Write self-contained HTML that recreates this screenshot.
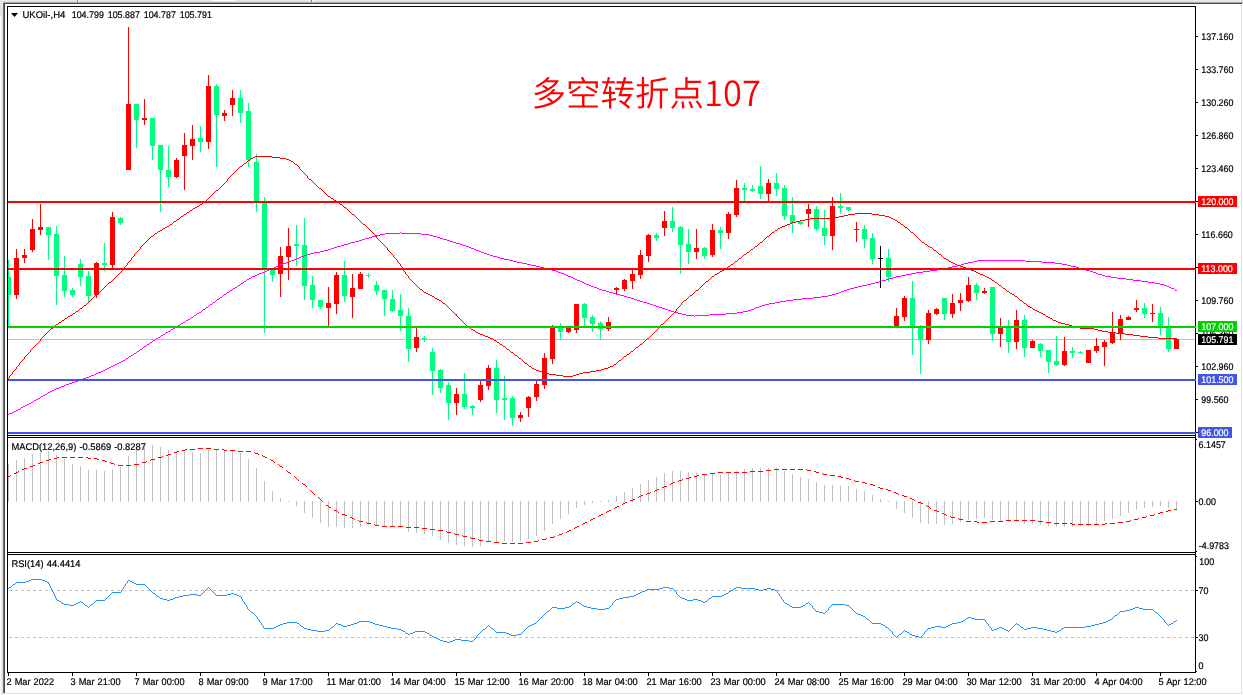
<!DOCTYPE html>
<html lang="zh"><head><meta charset="utf-8"><title>UKOil-,H4</title>
<style>
html,body{margin:0;padding:0;background:#fff}
body{width:1243px;height:695px;overflow:hidden}
svg{display:block;position:absolute;left:0;top:0;will-change:transform}
text{font-family:"Liberation Sans","Noto Sans CJK SC",sans-serif;font-size:9.7px;text-rendering:geometricPrecision;fill:#000;stroke:#000;stroke-width:0.2px}
.w{fill:#fff;stroke:#fff}
.ax{letter-spacing:0}
.tl{word-spacing:0.55px}
.big{font-size:34.5px;fill:#ff0000;font-weight:350;stroke:none}
.ce{shape-rendering:crispEdges}
</style></head><body>

<svg width="1243" height="695" viewBox="0 0 1243 695">

<g class="ce">
<rect x="0" y="0" width="1243" height="695" fill="#ffffff"/>
<rect x="0" y="0" width="1243" height="1" fill="#e8e8e8"/>
<rect x="0" y="1" width="1243" height="1" fill="#e2e2e2"/>
<rect x="212" y="0" width="23" height="1" fill="#ffffff"/>
<rect x="0" y="2" width="1243" height="1" fill="#a8a8a8"/>
<rect x="0" y="2" width="3" height="1" fill="#e9e9e9"/>
<rect x="77" y="0" width="1" height="2" fill="#808080"/>
<rect x="78" y="0" width="1" height="2" fill="#f8f8f8"/>
<rect x="311" y="0" width="1" height="2" fill="#808080"/>
<rect x="312" y="0" width="1" height="2" fill="#f8f8f8"/>
<rect x="3" y="3" width="1239" height="1" fill="#4a4a4a"/>
<rect x="0" y="3" width="3" height="13" fill="#e4e4e4"/>
<rect x="0" y="16" width="1" height="679" fill="#fafafa"/>
<rect x="1" y="16" width="1" height="679" fill="#e8e8e8"/>
<rect x="2" y="16" width="1" height="679" fill="#e0e0e0"/>
<rect x="3" y="3" width="1" height="690" fill="#707070"/>
<rect x="4" y="3" width="1" height="690" fill="#444444"/>
<rect x="1241" y="4" width="1" height="690" fill="#e2e2e2"/>
<rect x="3" y="693" width="1239" height="1" fill="#e2e2e2"/>
</g>

<g class="ce">
<rect x="8" y="339" width="1187" height="1" fill="#c0c0c0"/>
<rect x="8" y="260" width="1" height="68" fill="#00ff7f"/>
<rect x="8" y="277" width="3" height="18" fill="#00ff7f"/>
<rect x="16" y="249" width="1" height="50" fill="#ff0000"/>
<rect x="14" y="258" width="5" height="37" fill="#ff0000"/>
<rect x="24" y="249" width="1" height="14" fill="#ff0000"/>
<rect x="22" y="255" width="5" height="3" fill="#ff0000"/>
<rect x="32" y="219" width="1" height="33" fill="#ff0000"/>
<rect x="30" y="229" width="5" height="21" fill="#ff0000"/>
<rect x="40" y="204" width="1" height="31" fill="#ff0000"/>
<rect x="38" y="227" width="5" height="3" fill="#ff0000"/>
<rect x="48" y="227" width="1" height="33" fill="#00ff7f"/>
<rect x="46" y="227" width="5" height="8" fill="#00ff7f"/>
<rect x="56" y="226" width="1" height="79" fill="#00ff7f"/>
<rect x="54" y="234" width="5" height="42" fill="#00ff7f"/>
<rect x="64" y="256" width="1" height="41" fill="#00ff7f"/>
<rect x="62" y="275" width="5" height="16" fill="#00ff7f"/>
<rect x="72" y="288" width="1" height="9" fill="#00ff7f"/>
<rect x="70" y="290" width="5" height="5" fill="#00ff7f"/>
<rect x="80" y="259" width="1" height="27" fill="#00ff7f"/>
<rect x="78" y="264" width="5" height="13" fill="#00ff7f"/>
<rect x="88" y="271" width="1" height="31" fill="#00ff7f"/>
<rect x="86" y="276" width="5" height="20" fill="#00ff7f"/>
<rect x="96" y="262" width="1" height="36" fill="#ff0000"/>
<rect x="94" y="263" width="5" height="32" fill="#ff0000"/>
<rect x="104" y="243" width="1" height="28" fill="#00ff7f"/>
<rect x="102" y="263" width="5" height="2" fill="#00ff7f"/>
<rect x="112" y="212" width="1" height="56" fill="#ff0000"/>
<rect x="110" y="217" width="5" height="48" fill="#ff0000"/>
<rect x="120" y="217" width="1" height="8" fill="#00ff7f"/>
<rect x="118" y="218" width="5" height="5" fill="#00ff7f"/>
<rect x="128" y="27" width="1" height="143" fill="#ff0000"/>
<rect x="126" y="104" width="5" height="66" fill="#ff0000"/>
<rect x="136" y="104" width="1" height="44" fill="#00ff7f"/>
<rect x="134" y="104" width="5" height="16" fill="#00ff7f"/>
<rect x="144" y="99" width="1" height="26" fill="#ff0000"/>
<rect x="142" y="118" width="5" height="2" fill="#ff0000"/>
<rect x="152" y="118" width="1" height="42" fill="#00ff7f"/>
<rect x="150" y="118" width="5" height="28" fill="#00ff7f"/>
<rect x="160" y="145" width="1" height="67" fill="#00ff7f"/>
<rect x="158" y="145" width="5" height="25" fill="#00ff7f"/>
<rect x="168" y="146" width="1" height="41" fill="#00ff7f"/>
<rect x="166" y="170" width="5" height="7" fill="#00ff7f"/>
<rect x="176" y="158" width="1" height="20" fill="#ff0000"/>
<rect x="174" y="160" width="5" height="17" fill="#ff0000"/>
<rect x="184" y="133" width="1" height="57" fill="#ff0000"/>
<rect x="182" y="145" width="5" height="11" fill="#ff0000"/>
<rect x="192" y="125" width="1" height="35" fill="#ff0000"/>
<rect x="190" y="139" width="5" height="7" fill="#ff0000"/>
<rect x="200" y="126" width="1" height="26" fill="#00ff7f"/>
<rect x="198" y="138" width="5" height="4" fill="#00ff7f"/>
<rect x="208" y="75" width="1" height="74" fill="#ff0000"/>
<rect x="206" y="86" width="5" height="56" fill="#ff0000"/>
<rect x="216" y="84" width="1" height="83" fill="#00ff7f"/>
<rect x="214" y="86" width="5" height="29" fill="#00ff7f"/>
<rect x="224" y="110" width="1" height="11" fill="#ff0000"/>
<rect x="222" y="113" width="5" height="3" fill="#ff0000"/>
<rect x="232" y="90" width="1" height="26" fill="#ff0000"/>
<rect x="230" y="98" width="5" height="7" fill="#ff0000"/>
<rect x="240" y="90" width="1" height="33" fill="#00ff7f"/>
<rect x="238" y="98" width="5" height="15" fill="#00ff7f"/>
<rect x="248" y="103" width="1" height="64" fill="#00ff7f"/>
<rect x="246" y="111" width="5" height="49" fill="#00ff7f"/>
<rect x="256" y="154" width="1" height="58" fill="#00ff7f"/>
<rect x="254" y="162" width="5" height="39" fill="#00ff7f"/>
<rect x="264" y="197" width="1" height="136" fill="#00ff7f"/>
<rect x="262" y="202" width="5" height="68" fill="#00ff7f"/>
<rect x="272" y="270" width="1" height="12" fill="#00ff7f"/>
<rect x="270" y="270" width="5" height="5" fill="#00ff7f"/>
<rect x="280" y="247" width="1" height="50" fill="#ff0000"/>
<rect x="278" y="256" width="5" height="18" fill="#ff0000"/>
<rect x="288" y="228" width="1" height="52" fill="#ff0000"/>
<rect x="286" y="246" width="5" height="11" fill="#ff0000"/>
<rect x="296" y="225" width="1" height="41" fill="#00ff7f"/>
<rect x="294" y="244" width="5" height="2" fill="#00ff7f"/>
<rect x="304" y="218" width="1" height="82" fill="#00ff7f"/>
<rect x="302" y="245" width="5" height="41" fill="#00ff7f"/>
<rect x="312" y="276" width="1" height="32" fill="#00ff7f"/>
<rect x="310" y="285" width="5" height="15" fill="#00ff7f"/>
<rect x="320" y="300" width="1" height="9" fill="#00ff7f"/>
<rect x="318" y="300" width="5" height="7" fill="#00ff7f"/>
<rect x="328" y="287" width="1" height="40" fill="#ff0000"/>
<rect x="326" y="303" width="5" height="5" fill="#ff0000"/>
<rect x="336" y="272" width="1" height="42" fill="#ff0000"/>
<rect x="334" y="275" width="5" height="29" fill="#ff0000"/>
<rect x="344" y="261" width="1" height="41" fill="#00ff7f"/>
<rect x="342" y="275" width="5" height="21" fill="#00ff7f"/>
<rect x="352" y="274" width="1" height="44" fill="#ff0000"/>
<rect x="350" y="288" width="5" height="9" fill="#ff0000"/>
<rect x="360" y="272" width="1" height="17" fill="#ff0000"/>
<rect x="358" y="274" width="5" height="15" fill="#ff0000"/>
<rect x="368" y="273" width="1" height="5" fill="#00ff7f"/>
<rect x="366" y="275" width="5" height="1" fill="#00ff7f"/>
<rect x="376" y="281" width="1" height="14" fill="#00ff7f"/>
<rect x="374" y="285" width="5" height="6" fill="#00ff7f"/>
<rect x="384" y="290" width="1" height="26" fill="#00ff7f"/>
<rect x="382" y="290" width="5" height="9" fill="#00ff7f"/>
<rect x="392" y="290" width="1" height="22" fill="#00ff7f"/>
<rect x="390" y="299" width="5" height="12" fill="#00ff7f"/>
<rect x="400" y="294" width="1" height="37" fill="#00ff7f"/>
<rect x="398" y="310" width="5" height="6" fill="#00ff7f"/>
<rect x="408" y="308" width="1" height="54" fill="#00ff7f"/>
<rect x="406" y="316" width="5" height="33" fill="#00ff7f"/>
<rect x="416" y="326" width="1" height="26" fill="#ff0000"/>
<rect x="414" y="337" width="5" height="11" fill="#ff0000"/>
<rect x="424" y="336" width="1" height="6" fill="#00ff7f"/>
<rect x="422" y="338" width="5" height="1" fill="#00ff7f"/>
<rect x="432" y="348" width="1" height="47" fill="#00ff7f"/>
<rect x="430" y="352" width="5" height="19" fill="#00ff7f"/>
<rect x="440" y="369" width="1" height="24" fill="#00ff7f"/>
<rect x="438" y="370" width="5" height="18" fill="#00ff7f"/>
<rect x="448" y="382" width="1" height="38" fill="#00ff7f"/>
<rect x="446" y="385" width="5" height="18" fill="#00ff7f"/>
<rect x="456" y="388" width="1" height="27" fill="#ff0000"/>
<rect x="454" y="394" width="5" height="9" fill="#ff0000"/>
<rect x="464" y="373" width="1" height="36" fill="#00ff7f"/>
<rect x="462" y="394" width="5" height="13" fill="#00ff7f"/>
<rect x="472" y="405" width="1" height="10" fill="#00ff7f"/>
<rect x="470" y="406" width="5" height="2" fill="#00ff7f"/>
<rect x="480" y="381" width="1" height="21" fill="#ff0000"/>
<rect x="478" y="385" width="5" height="15" fill="#ff0000"/>
<rect x="488" y="365" width="1" height="25" fill="#ff0000"/>
<rect x="486" y="368" width="5" height="18" fill="#ff0000"/>
<rect x="496" y="360" width="1" height="53" fill="#00ff7f"/>
<rect x="494" y="368" width="5" height="32" fill="#00ff7f"/>
<rect x="504" y="376" width="1" height="44" fill="#00ff7f"/>
<rect x="502" y="398" width="5" height="2" fill="#00ff7f"/>
<rect x="512" y="396" width="1" height="30" fill="#00ff7f"/>
<rect x="510" y="398" width="5" height="20" fill="#00ff7f"/>
<rect x="520" y="412" width="1" height="10" fill="#ff0000"/>
<rect x="518" y="415" width="5" height="3" fill="#ff0000"/>
<rect x="528" y="396" width="1" height="21" fill="#ff0000"/>
<rect x="526" y="397" width="5" height="11" fill="#ff0000"/>
<rect x="536" y="381" width="1" height="20" fill="#ff0000"/>
<rect x="534" y="384" width="5" height="13" fill="#ff0000"/>
<rect x="544" y="353" width="1" height="36" fill="#ff0000"/>
<rect x="542" y="358" width="5" height="27" fill="#ff0000"/>
<rect x="552" y="325" width="1" height="39" fill="#ff0000"/>
<rect x="550" y="327" width="5" height="32" fill="#ff0000"/>
<rect x="560" y="323" width="1" height="17" fill="#00ff7f"/>
<rect x="558" y="328" width="5" height="4" fill="#00ff7f"/>
<rect x="568" y="326" width="1" height="7" fill="#ff0000"/>
<rect x="566" y="326" width="5" height="6" fill="#ff0000"/>
<rect x="576" y="304" width="1" height="29" fill="#ff0000"/>
<rect x="574" y="304" width="5" height="26" fill="#ff0000"/>
<rect x="584" y="303" width="1" height="24" fill="#00ff7f"/>
<rect x="582" y="304" width="5" height="14" fill="#00ff7f"/>
<rect x="592" y="315" width="1" height="17" fill="#00ff7f"/>
<rect x="590" y="317" width="5" height="7" fill="#00ff7f"/>
<rect x="600" y="321" width="1" height="19" fill="#00ff7f"/>
<rect x="598" y="323" width="5" height="6" fill="#00ff7f"/>
<rect x="608" y="317" width="1" height="14" fill="#ff0000"/>
<rect x="606" y="322" width="5" height="7" fill="#ff0000"/>
<rect x="616" y="287" width="1" height="7" fill="#ff0000"/>
<rect x="614" y="288" width="5" height="2" fill="#ff0000"/>
<rect x="624" y="279" width="1" height="12" fill="#ff0000"/>
<rect x="622" y="280" width="5" height="9" fill="#ff0000"/>
<rect x="632" y="270" width="1" height="19" fill="#ff0000"/>
<rect x="630" y="274" width="5" height="7" fill="#ff0000"/>
<rect x="640" y="250" width="1" height="29" fill="#ff0000"/>
<rect x="638" y="255" width="5" height="20" fill="#ff0000"/>
<rect x="648" y="234" width="1" height="28" fill="#ff0000"/>
<rect x="646" y="235" width="5" height="21" fill="#ff0000"/>
<rect x="656" y="233" width="1" height="8" fill="#00ff7f"/>
<rect x="654" y="235" width="5" height="3" fill="#00ff7f"/>
<rect x="664" y="211" width="1" height="25" fill="#ff0000"/>
<rect x="662" y="221" width="5" height="7" fill="#ff0000"/>
<rect x="672" y="207" width="1" height="25" fill="#00ff7f"/>
<rect x="670" y="221" width="5" height="7" fill="#00ff7f"/>
<rect x="680" y="226" width="1" height="48" fill="#00ff7f"/>
<rect x="678" y="227" width="5" height="18" fill="#00ff7f"/>
<rect x="688" y="229" width="1" height="35" fill="#00ff7f"/>
<rect x="686" y="244" width="5" height="8" fill="#00ff7f"/>
<rect x="696" y="229" width="1" height="30" fill="#ff0000"/>
<rect x="694" y="248" width="5" height="4" fill="#ff0000"/>
<rect x="704" y="247" width="1" height="12" fill="#00ff7f"/>
<rect x="702" y="248" width="5" height="8" fill="#00ff7f"/>
<rect x="712" y="224" width="1" height="33" fill="#ff0000"/>
<rect x="710" y="230" width="5" height="25" fill="#ff0000"/>
<rect x="720" y="227" width="1" height="22" fill="#00ff7f"/>
<rect x="718" y="230" width="5" height="3" fill="#00ff7f"/>
<rect x="728" y="212" width="1" height="27" fill="#ff0000"/>
<rect x="726" y="214" width="5" height="19" fill="#ff0000"/>
<rect x="736" y="180" width="1" height="37" fill="#ff0000"/>
<rect x="734" y="188" width="5" height="27" fill="#ff0000"/>
<rect x="744" y="183" width="1" height="18" fill="#00ff7f"/>
<rect x="742" y="188" width="5" height="2" fill="#00ff7f"/>
<rect x="752" y="185" width="1" height="7" fill="#00ff7f"/>
<rect x="750" y="189" width="5" height="2" fill="#00ff7f"/>
<rect x="760" y="166" width="1" height="33" fill="#00ff7f"/>
<rect x="758" y="186" width="5" height="8" fill="#00ff7f"/>
<rect x="768" y="179" width="1" height="22" fill="#ff0000"/>
<rect x="766" y="183" width="5" height="11" fill="#ff0000"/>
<rect x="776" y="173" width="1" height="23" fill="#00ff7f"/>
<rect x="774" y="183" width="5" height="6" fill="#00ff7f"/>
<rect x="784" y="185" width="1" height="35" fill="#00ff7f"/>
<rect x="782" y="188" width="5" height="28" fill="#00ff7f"/>
<rect x="792" y="197" width="1" height="36" fill="#00ff7f"/>
<rect x="790" y="215" width="5" height="8" fill="#00ff7f"/>
<rect x="800" y="221" width="1" height="4" fill="#00ff7f"/>
<rect x="798" y="222" width="5" height="2" fill="#00ff7f"/>
<rect x="808" y="204" width="1" height="23" fill="#ff0000"/>
<rect x="806" y="209" width="5" height="5" fill="#ff0000"/>
<rect x="816" y="206" width="1" height="25" fill="#00ff7f"/>
<rect x="814" y="209" width="5" height="20" fill="#00ff7f"/>
<rect x="824" y="210" width="1" height="35" fill="#00ff7f"/>
<rect x="822" y="228" width="5" height="8" fill="#00ff7f"/>
<rect x="832" y="197" width="1" height="53" fill="#ff0000"/>
<rect x="830" y="206" width="5" height="30" fill="#ff0000"/>
<rect x="840" y="193" width="1" height="21" fill="#00ff7f"/>
<rect x="838" y="206" width="5" height="2" fill="#00ff7f"/>
<rect x="848" y="207" width="1" height="4" fill="#00ff7f"/>
<rect x="846" y="207" width="5" height="3" fill="#00ff7f"/>
<rect x="856" y="222" width="1" height="20" fill="#ff0000"/>
<rect x="854" y="229" width="5" height="1" fill="#ff0000"/>
<rect x="864" y="225" width="1" height="23" fill="#00ff7f"/>
<rect x="862" y="229" width="5" height="10" fill="#00ff7f"/>
<rect x="872" y="233" width="1" height="31" fill="#00ff7f"/>
<rect x="870" y="238" width="5" height="21" fill="#00ff7f"/>
<rect x="880" y="246" width="1" height="42" fill="#000000"/>
<rect x="878" y="258" width="5" height="1" fill="#000000"/>
<rect x="888" y="249" width="1" height="33" fill="#00ff7f"/>
<rect x="886" y="258" width="5" height="19" fill="#00ff7f"/>
<rect x="896" y="308" width="1" height="19" fill="#ff0000"/>
<rect x="894" y="316" width="5" height="11" fill="#ff0000"/>
<rect x="904" y="296" width="1" height="25" fill="#ff0000"/>
<rect x="902" y="298" width="5" height="19" fill="#ff0000"/>
<rect x="912" y="281" width="1" height="74" fill="#00ff7f"/>
<rect x="910" y="298" width="5" height="29" fill="#00ff7f"/>
<rect x="920" y="325" width="1" height="49" fill="#00ff7f"/>
<rect x="918" y="326" width="5" height="14" fill="#00ff7f"/>
<rect x="928" y="310" width="1" height="34" fill="#ff0000"/>
<rect x="926" y="313" width="5" height="27" fill="#ff0000"/>
<rect x="936" y="308" width="1" height="7" fill="#ff0000"/>
<rect x="934" y="309" width="5" height="5" fill="#ff0000"/>
<rect x="944" y="298" width="1" height="22" fill="#00ff7f"/>
<rect x="942" y="298" width="5" height="16" fill="#00ff7f"/>
<rect x="952" y="294" width="1" height="24" fill="#ff0000"/>
<rect x="950" y="303" width="5" height="11" fill="#ff0000"/>
<rect x="960" y="293" width="1" height="18" fill="#ff0000"/>
<rect x="958" y="300" width="5" height="3" fill="#ff0000"/>
<rect x="968" y="277" width="1" height="25" fill="#ff0000"/>
<rect x="966" y="285" width="5" height="16" fill="#ff0000"/>
<rect x="976" y="283" width="1" height="17" fill="#00ff7f"/>
<rect x="974" y="285" width="5" height="8" fill="#00ff7f"/>
<rect x="984" y="288" width="1" height="6" fill="#ff0000"/>
<rect x="982" y="291" width="5" height="2" fill="#ff0000"/>
<rect x="992" y="287" width="1" height="54" fill="#00ff7f"/>
<rect x="990" y="287" width="5" height="47" fill="#00ff7f"/>
<rect x="1000" y="318" width="1" height="29" fill="#ff0000"/>
<rect x="998" y="326" width="5" height="8" fill="#ff0000"/>
<rect x="1008" y="320" width="1" height="33" fill="#00ff7f"/>
<rect x="1006" y="326" width="5" height="16" fill="#00ff7f"/>
<rect x="1016" y="310" width="1" height="39" fill="#ff0000"/>
<rect x="1014" y="320" width="5" height="22" fill="#ff0000"/>
<rect x="1024" y="315" width="1" height="42" fill="#00ff7f"/>
<rect x="1022" y="320" width="5" height="28" fill="#00ff7f"/>
<rect x="1032" y="340" width="1" height="8" fill="#ff0000"/>
<rect x="1030" y="341" width="5" height="7" fill="#ff0000"/>
<rect x="1040" y="343" width="1" height="14" fill="#00ff7f"/>
<rect x="1038" y="344" width="5" height="7" fill="#00ff7f"/>
<rect x="1048" y="350" width="1" height="23" fill="#00ff7f"/>
<rect x="1046" y="350" width="5" height="12" fill="#00ff7f"/>
<rect x="1056" y="336" width="1" height="30" fill="#00ff7f"/>
<rect x="1054" y="361" width="5" height="4" fill="#00ff7f"/>
<rect x="1064" y="337" width="1" height="29" fill="#ff0000"/>
<rect x="1062" y="351" width="5" height="14" fill="#ff0000"/>
<rect x="1072" y="347" width="1" height="11" fill="#00ff7f"/>
<rect x="1070" y="351" width="5" height="2" fill="#00ff7f"/>
<rect x="1080" y="351" width="1" height="3" fill="#00ff7f"/>
<rect x="1078" y="352" width="5" height="1" fill="#00ff7f"/>
<rect x="1088" y="350" width="1" height="13" fill="#ff0000"/>
<rect x="1086" y="350" width="5" height="13" fill="#ff0000"/>
<rect x="1096" y="338" width="1" height="15" fill="#ff0000"/>
<rect x="1094" y="346" width="5" height="5" fill="#ff0000"/>
<rect x="1104" y="340" width="1" height="26" fill="#ff0000"/>
<rect x="1102" y="342" width="5" height="5" fill="#ff0000"/>
<rect x="1112" y="312" width="1" height="32" fill="#ff0000"/>
<rect x="1110" y="332" width="5" height="11" fill="#ff0000"/>
<rect x="1120" y="315" width="1" height="25" fill="#ff0000"/>
<rect x="1118" y="319" width="5" height="15" fill="#ff0000"/>
<rect x="1128" y="316" width="1" height="4" fill="#ff0000"/>
<rect x="1126" y="317" width="5" height="3" fill="#ff0000"/>
<rect x="1136" y="300" width="1" height="12" fill="#ff0000"/>
<rect x="1134" y="308" width="5" height="2" fill="#ff0000"/>
<rect x="1144" y="303" width="1" height="15" fill="#00ff7f"/>
<rect x="1142" y="308" width="5" height="6" fill="#00ff7f"/>
<rect x="1152" y="304" width="1" height="18" fill="#ff0000"/>
<rect x="1150" y="313" width="5" height="1" fill="#ff0000"/>
<rect x="1160" y="307" width="1" height="28" fill="#00ff7f"/>
<rect x="1158" y="313" width="5" height="13" fill="#00ff7f"/>
<rect x="1168" y="317" width="1" height="35" fill="#00ff7f"/>
<rect x="1166" y="326" width="5" height="23" fill="#00ff7f"/>
<rect x="1176" y="338" width="1" height="11" fill="#ff0000"/>
<rect x="1174" y="339" width="5" height="10" fill="#ff0000"/>
</g>

<g class="ce">
<path d="M400 232.5h1M385 233.5h15M401 233.5h20M380 234.5h5M421 234.5h8M376 235.5h4M429 235.5h4M372 236.5h4M433 236.5h4M369 237.5h3M437 237.5h3M365 238.5h4M440 238.5h3M362 239.5h3M443 239.5h4M359 240.5h3M447 240.5h3M355 241.5h4M450 241.5h3M351 242.5h4M453 242.5h3M348 243.5h3M456 243.5h4M344 244.5h4M460 244.5h3M341 245.5h3M463 245.5h3M337 246.5h4M466 246.5h3M334 247.5h3M469 247.5h2M331 248.5h3M471 248.5h3M328 249.5h3M474 249.5h2M324 250.5h4M476 250.5h3M320 251.5h4M479 251.5h2M314 252.5h6M481 252.5h3M310 253.5h4M484 253.5h3M307 254.5h3M487 254.5h3M304 255.5h3M490 255.5h3M301 256.5h3M493 256.5h4M299 257.5h2M497 257.5h3M296 258.5h3M500 258.5h4M294 259.5h2M504 259.5h5M291 260.5h3M509 260.5h4M977 260.5h48M288 261.5h3M513 261.5h4M973 261.5h4M1025 261.5h17M286 262.5h2M517 262.5h5M968 262.5h5M1042 262.5h13M283 263.5h3M522 263.5h5M964 263.5h4M1055 263.5h7M280 264.5h3M527 264.5h4M961 264.5h3M1062 264.5h5M278 265.5h2M531 265.5h5M957 265.5h4M1067 265.5h4M276 266.5h2M536 266.5h4M952 266.5h5M1071 266.5h5M274 267.5h2M540 267.5h4M948 267.5h4M1076 267.5h3M271 268.5h3M544 268.5h5M942 268.5h6M1079 268.5h4M269 269.5h2M549 269.5h3M937 269.5h5M1083 269.5h3M267 270.5h2M552 270.5h4M930 270.5h7M1086 270.5h4M265 271.5h2M556 271.5h2M923 271.5h7M1090 271.5h3M262 272.5h3M558 272.5h3M916 272.5h7M1093 272.5h3M259 273.5h3M561 273.5h3M911 273.5h5M1096 273.5h2M257 274.5h2M564 274.5h2M906 274.5h5M1098 274.5h4M255 275.5h2M566 275.5h2M901 275.5h5M1102 275.5h3M252 276.5h3M568 276.5h3M896 276.5h5M1105 276.5h6M251 277.5h1M571 277.5h2M893 277.5h3M1111 277.5h6M249 278.5h2M573 278.5h2M889 278.5h4M1117 278.5h9M247 279.5h2M575 279.5h2M886 279.5h3M1126 279.5h7M246 280.5h1M577 280.5h3M882 280.5h4M1133 280.5h8M244 281.5h2M580 281.5h2M879 281.5h3M1141 281.5h7M243 282.5h1M582 282.5h2M875 282.5h4M1148 282.5h7M241 283.5h2M584 283.5h2M871 283.5h4M1155 283.5h5M240 284.5h1M586 284.5h3M867 284.5h4M1160 284.5h4M238 285.5h2M589 285.5h2M862 285.5h5M1164 285.5h3M237 286.5h1M591 286.5h3M858 286.5h4M1167 286.5h2M235 287.5h2M594 287.5h3M854 287.5h4M1169 287.5h2M233 288.5h2M597 288.5h2M850 288.5h4M1171 288.5h3M232 289.5h1M599 289.5h3M847 289.5h3M1174 289.5h1M230 290.5h2M602 290.5h4M844 290.5h3M1175 290.5h2M229 291.5h1M606 291.5h3M841 291.5h3M227 292.5h2M609 292.5h4M839 292.5h2M226 293.5h1M613 293.5h3M836 293.5h3M224 294.5h2M616 294.5h4M832 294.5h4M223 295.5h1M620 295.5h4M828 295.5h4M222 296.5h1M624 296.5h3M821 296.5h7M220 297.5h2M627 297.5h4M813 297.5h8M219 298.5h1M631 298.5h3M802 298.5h11M217 299.5h2M634 299.5h3M793 299.5h9M216 300.5h1M637 300.5h3M786 300.5h7M215 301.5h1M640 301.5h3M780 301.5h6M213 302.5h2M643 302.5h4M775 302.5h5M212 303.5h1M647 303.5h3M769 303.5h6M210 304.5h2M650 304.5h3M765 304.5h4M209 305.5h1M653 305.5h3M762 305.5h3M208 306.5h1M656 306.5h3M759 306.5h3M206 307.5h2M659 307.5h3M756 307.5h3M205 308.5h1M662 308.5h3M754 308.5h2M203 309.5h2M665 309.5h3M751 309.5h3M202 310.5h1M668 310.5h3M748 310.5h3M201 311.5h1M671 311.5h3M743 311.5h5M199 312.5h2M674 312.5h4M737 312.5h6M197 313.5h2M678 313.5h4M726 313.5h11M196 314.5h1M682 314.5h4M709 314.5h17M194 315.5h2M686 315.5h8M695 315.5h14M193 316.5h1M694 316.5h1M191 317.5h2M190 318.5h1M188 319.5h2M186 320.5h2M185 321.5h1M183 322.5h2M181 323.5h2M180 324.5h1M178 325.5h2M176 326.5h2M175 327.5h1M173 328.5h2M171 329.5h2M170 330.5h1M168 331.5h2M166 332.5h2M165 333.5h1M163 334.5h2M161 335.5h2M160 336.5h1M158 337.5h2M156 338.5h2M155 339.5h1M153 340.5h2M152 341.5h1M150 342.5h2M149 343.5h1M147 344.5h2M146 345.5h1M144 346.5h2M143 347.5h1M142 348.5h1M140 349.5h2M139 350.5h1M137 351.5h2M136 352.5h1M134 353.5h2M133 354.5h1M131 355.5h2M129 356.5h2M128 357.5h1M126 358.5h2M125 359.5h1M123 360.5h2M121 361.5h2M119 362.5h2M117 363.5h2M115 364.5h2M113 365.5h2M111 366.5h2M109 367.5h2M107 368.5h2M105 369.5h2M103 370.5h2M101 371.5h2M98 372.5h3M96 373.5h2M94 374.5h2M91 375.5h3M89 376.5h2M86 377.5h3M83 378.5h3M81 379.5h2M78 380.5h3M75 381.5h3M72 382.5h3M69 383.5h3M66 384.5h3M64 385.5h2M61 386.5h3M59 387.5h2M56 388.5h3M54 389.5h2M52 390.5h2M50 391.5h2M48 392.5h2M47 393.5h1M45 394.5h2M43 395.5h2M41 396.5h2M40 397.5h1M38 398.5h2M36 399.5h2M34 400.5h2M33 401.5h1M31 402.5h2M29 403.5h2M27 404.5h2M25 405.5h2M23 406.5h2M21 407.5h2M20 408.5h1M18 409.5h2M16 410.5h2M14 411.5h2M12 412.5h2M9 413.5h3M8 414.5h1" fill="none" stroke="#ff00ff" stroke-width="1"/>
<path d="M255 156.5h17M253 157.5h2M272 157.5h8M251 158.5h2M280 158.5h6M250 159.5h1M286 159.5h3M248 160.5h2M289 160.5h2M247 161.5h1M291 161.5h2M246 162.5h1M293 162.5h1M244 163.5h2M294 163.5h1M243 164.5h1M295 164.5h2M242 165.5h1M297 165.5h1M240 166.5h2M298 166.5h1M239 167.5h1M299 167.5h1M238 168.5h1M299 168.5h1M237 169.5h1M300 169.5h1M236 170.5h1M301 170.5h1M235 171.5h1M302 171.5h1M234 172.5h1M303 172.5h1M233 173.5h1M304 173.5h1M232 174.5h1M305 174.5h1M231 175.5h1M306 175.5h1M230 176.5h1M307 176.5h1M229 177.5h1M307 177.5h1M228 178.5h1M308 178.5h1M227 179.5h1M309 179.5h2M227 180.5h1M311 180.5h1M226 181.5h1M312 181.5h1M225 182.5h1M313 182.5h1M224 183.5h1M314 183.5h1M223 184.5h1M315 184.5h1M222 185.5h1M316 185.5h1M221 186.5h1M317 186.5h1M220 187.5h1M318 187.5h1M219 188.5h1M319 188.5h2M218 189.5h1M321 189.5h1M216 190.5h2M322 190.5h1M215 191.5h1M323 191.5h1M214 192.5h1M324 192.5h1M213 193.5h1M325 193.5h1M212 194.5h1M326 194.5h1M211 195.5h1M327 195.5h1M210 196.5h1M328 196.5h2M209 197.5h1M330 197.5h1M208 198.5h1M331 198.5h2M207 199.5h1M333 199.5h1M206 200.5h1M334 200.5h2M205 201.5h1M336 201.5h2M203 202.5h2M338 202.5h1M202 203.5h1M339 203.5h1M200 204.5h2M340 204.5h2M199 205.5h1M342 205.5h1M197 206.5h2M343 206.5h1M195 207.5h2M344 207.5h2M193 208.5h2M346 208.5h1M192 209.5h1M347 209.5h1M190 210.5h2M348 210.5h1M189 211.5h1M349 211.5h1M187 212.5h2M350 212.5h1M186 213.5h1M351 213.5h1M855 213.5h17M184 214.5h2M352 214.5h2M848 214.5h7M872 214.5h7M183 215.5h1M354 215.5h1M844 215.5h4M879 215.5h6M181 216.5h2M355 216.5h1M839 216.5h5M885 216.5h4M180 217.5h1M356 217.5h1M833 217.5h6M889 217.5h2M179 218.5h1M357 218.5h1M810 218.5h23M891 218.5h2M177 219.5h2M358 219.5h1M805 219.5h5M893 219.5h2M176 220.5h1M359 220.5h1M800 220.5h5M895 220.5h2M174 221.5h2M360 221.5h1M796 221.5h4M897 221.5h1M173 222.5h1M361 222.5h1M792 222.5h4M898 222.5h2M172 223.5h1M362 223.5h1M790 223.5h2M900 223.5h1M170 224.5h2M363 224.5h2M787 224.5h3M901 224.5h2M169 225.5h1M365 225.5h1M785 225.5h2M903 225.5h1M167 226.5h2M366 226.5h1M782 226.5h3M904 226.5h1M165 227.5h2M367 227.5h1M780 227.5h2M905 227.5h2M163 228.5h2M368 228.5h1M778 228.5h2M907 228.5h1M162 229.5h1M369 229.5h1M777 229.5h1M908 229.5h1M160 230.5h2M370 230.5h1M775 230.5h2M909 230.5h1M158 231.5h2M371 231.5h1M774 231.5h1M910 231.5h1M157 232.5h1M372 232.5h1M772 232.5h2M911 232.5h2M155 233.5h2M373 233.5h1M771 233.5h1M913 233.5h1M154 234.5h1M374 234.5h1M770 234.5h1M914 234.5h1M153 235.5h1M375 235.5h1M769 235.5h1M915 235.5h1M151 236.5h2M376 236.5h1M767 236.5h2M916 236.5h1M150 237.5h1M376 237.5h1M766 237.5h1M917 237.5h1M149 238.5h1M377 238.5h1M765 238.5h1M918 238.5h1M148 239.5h1M378 239.5h1M764 239.5h1M919 239.5h1M147 240.5h1M379 240.5h1M763 240.5h1M920 240.5h1M146 241.5h1M380 241.5h1M762 241.5h1M921 241.5h1M145 242.5h1M381 242.5h1M760 242.5h2M922 242.5h2M144 243.5h1M382 243.5h1M759 243.5h1M924 243.5h1M143 244.5h1M383 244.5h1M758 244.5h1M925 244.5h2M142 245.5h1M384 245.5h1M757 245.5h1M927 245.5h1M141 246.5h1M385 246.5h1M755 246.5h2M928 246.5h2M140 247.5h1M386 247.5h1M754 247.5h1M930 247.5h2M140 248.5h1M387 248.5h1M753 248.5h1M932 248.5h1M139 249.5h1M387 249.5h1M751 249.5h2M933 249.5h1M138 250.5h1M388 250.5h1M750 250.5h1M934 250.5h2M137 251.5h1M389 251.5h1M749 251.5h1M936 251.5h1M136 252.5h1M390 252.5h1M747 252.5h2M937 252.5h1M135 253.5h1M391 253.5h1M746 253.5h1M938 253.5h1M134 254.5h1M392 254.5h1M744 254.5h2M939 254.5h2M134 255.5h1M393 255.5h1M743 255.5h1M941 255.5h1M133 256.5h1M393 256.5h1M742 256.5h1M942 256.5h1M132 257.5h1M394 257.5h1M741 257.5h1M943 257.5h1M131 258.5h1M395 258.5h1M739 258.5h2M944 258.5h2M131 259.5h1M396 259.5h1M738 259.5h1M946 259.5h2M130 260.5h1M397 260.5h1M737 260.5h1M948 260.5h1M129 261.5h1M397 261.5h1M735 261.5h2M949 261.5h2M128 262.5h1M398 262.5h1M734 262.5h1M951 262.5h2M127 263.5h1M399 263.5h1M733 263.5h1M953 263.5h2M127 264.5h1M400 264.5h1M731 264.5h2M955 264.5h2M126 265.5h1M400 265.5h1M730 265.5h1M957 265.5h3M125 266.5h1M401 266.5h1M728 266.5h2M960 266.5h3M124 267.5h1M402 267.5h1M727 267.5h1M963 267.5h3M123 268.5h1M402 268.5h1M725 268.5h2M966 268.5h3M122 269.5h1M403 269.5h1M724 269.5h1M969 269.5h2M122 270.5h1M403 270.5h1M722 270.5h2M971 270.5h3M121 271.5h1M404 271.5h1M720 271.5h2M974 271.5h2M120 272.5h1M405 272.5h1M719 272.5h1M976 272.5h2M119 273.5h1M405 273.5h1M717 273.5h2M978 273.5h2M118 274.5h1M406 274.5h1M715 274.5h2M980 274.5h3M117 275.5h1M407 275.5h1M714 275.5h1M983 275.5h2M116 276.5h1M408 276.5h1M712 276.5h2M985 276.5h2M115 277.5h1M408 277.5h1M711 277.5h1M987 277.5h2M114 278.5h1M409 278.5h1M710 278.5h1M989 278.5h2M113 279.5h1M410 279.5h1M709 279.5h1M991 279.5h1M112 280.5h1M411 280.5h1M708 280.5h1M992 280.5h2M111 281.5h1M412 281.5h1M706 281.5h2M994 281.5h1M109 282.5h2M413 282.5h1M705 282.5h1M995 282.5h2M108 283.5h1M414 283.5h1M704 283.5h1M997 283.5h1M107 284.5h1M415 284.5h1M703 284.5h1M998 284.5h1M106 285.5h1M416 285.5h1M702 285.5h1M999 285.5h2M105 286.5h1M417 286.5h1M701 286.5h1M1001 286.5h1M104 287.5h1M418 287.5h1M700 287.5h1M1002 287.5h1M103 288.5h1M419 288.5h1M699 288.5h1M1003 288.5h2M102 289.5h1M420 289.5h2M698 289.5h1M1005 289.5h1M101 290.5h1M422 290.5h1M696 290.5h2M1006 290.5h1M100 291.5h1M423 291.5h1M695 291.5h1M1007 291.5h2M99 292.5h1M424 292.5h2M694 292.5h1M1009 292.5h1M98 293.5h1M426 293.5h2M693 293.5h1M1010 293.5h2M96 294.5h2M428 294.5h2M692 294.5h1M1012 294.5h2M95 295.5h1M430 295.5h2M690 295.5h2M1014 295.5h1M94 296.5h1M432 296.5h2M689 296.5h1M1015 296.5h2M93 297.5h1M434 297.5h1M688 297.5h1M1017 297.5h1M92 298.5h1M435 298.5h2M687 298.5h1M1018 298.5h1M91 299.5h1M437 299.5h2M686 299.5h1M1019 299.5h1M90 300.5h1M439 300.5h2M684 300.5h2M1020 300.5h2M89 301.5h1M441 301.5h1M683 301.5h1M1022 301.5h1M88 302.5h1M442 302.5h1M682 302.5h1M1023 302.5h1M87 303.5h1M443 303.5h2M681 303.5h1M1024 303.5h2M86 304.5h1M445 304.5h1M681 304.5h1M1026 304.5h1M84 305.5h2M446 305.5h1M680 305.5h1M1027 305.5h1M83 306.5h1M447 306.5h1M679 306.5h1M1028 306.5h2M82 307.5h1M448 307.5h1M678 307.5h1M1030 307.5h2M80 308.5h2M449 308.5h1M677 308.5h1M1032 308.5h1M79 309.5h1M450 309.5h1M676 309.5h1M1033 309.5h2M78 310.5h1M451 310.5h1M676 310.5h1M1035 310.5h2M76 311.5h2M452 311.5h1M675 311.5h1M1037 311.5h2M75 312.5h1M453 312.5h1M674 312.5h1M1039 312.5h2M73 313.5h2M454 313.5h1M673 313.5h1M1041 313.5h2M72 314.5h1M455 314.5h2M672 314.5h1M1043 314.5h2M70 315.5h2M456 315.5h1M671 315.5h1M1045 315.5h1M68 316.5h2M457 316.5h1M670 316.5h1M1046 316.5h2M67 317.5h1M458 317.5h1M669 317.5h1M1048 317.5h2M65 318.5h2M459 318.5h1M668 318.5h1M1050 318.5h2M64 319.5h1M460 319.5h1M667 319.5h1M1052 319.5h1M62 320.5h2M461 320.5h1M666 320.5h1M1053 320.5h3M61 321.5h1M462 321.5h1M665 321.5h1M1056 321.5h2M59 322.5h2M463 322.5h1M664 322.5h1M1058 322.5h3M58 323.5h1M464 323.5h1M663 323.5h1M1061 323.5h4M56 324.5h2M465 324.5h1M661 324.5h2M1065 324.5h4M55 325.5h1M466 325.5h1M660 325.5h1M1069 325.5h3M54 326.5h1M467 326.5h2M659 326.5h1M1072 326.5h3M53 327.5h1M469 327.5h1M659 327.5h1M1075 327.5h5M51 328.5h2M470 328.5h1M658 328.5h1M1080 328.5h14M50 329.5h1M471 329.5h2M657 329.5h1M1094 329.5h4M49 330.5h1M473 330.5h2M656 330.5h1M1098 330.5h4M48 331.5h1M475 331.5h1M655 331.5h1M1102 331.5h6M47 332.5h1M476 332.5h2M654 332.5h1M1108 332.5h8M46 333.5h1M478 333.5h2M653 333.5h1M1116 333.5h9M45 334.5h1M480 334.5h3M652 334.5h1M1125 334.5h8M44 335.5h1M483 335.5h2M651 335.5h1M1133 335.5h7M43 336.5h1M485 336.5h3M650 336.5h1M1140 336.5h8M42 337.5h1M488 337.5h2M649 337.5h1M1148 337.5h10M41 338.5h1M490 338.5h3M647 338.5h2M1158 338.5h19M40 339.5h1M493 339.5h1M646 339.5h1M40 340.5h1M494 340.5h2M645 340.5h1M39 341.5h1M496 341.5h1M644 341.5h1M38 342.5h1M497 342.5h2M643 342.5h1M37 343.5h1M499 343.5h1M642 343.5h1M36 344.5h1M500 344.5h2M640 344.5h2M35 345.5h1M502 345.5h1M639 345.5h1M34 346.5h1M503 346.5h2M638 346.5h1M33 347.5h1M505 347.5h1M636 347.5h2M32 348.5h1M506 348.5h1M635 348.5h1M31 349.5h1M507 349.5h2M634 349.5h1M30 350.5h1M509 350.5h1M633 350.5h1M30 351.5h1M510 351.5h1M631 351.5h2M29 352.5h1M511 352.5h2M630 352.5h1M28 353.5h1M513 353.5h1M629 353.5h1M27 354.5h1M514 354.5h1M627 354.5h2M26 355.5h1M515 355.5h2M626 355.5h1M25 356.5h1M517 356.5h1M624 356.5h2M24 357.5h1M518 357.5h1M623 357.5h1M24 358.5h1M519 358.5h2M622 358.5h1M23 359.5h1M521 359.5h1M621 359.5h1M22 360.5h1M522 360.5h1M619 360.5h2M21 361.5h1M523 361.5h1M618 361.5h1M20 362.5h1M524 362.5h1M617 362.5h1M19 363.5h1M525 363.5h2M616 363.5h1M19 364.5h1M527 364.5h1M614 364.5h2M18 365.5h1M528 365.5h1M613 365.5h1M17 366.5h1M529 366.5h2M610 366.5h3M16 367.5h1M531 367.5h1M608 367.5h2M16 368.5h1M532 368.5h2M604 368.5h4M15 369.5h1M534 369.5h2M601 369.5h3M14 370.5h1M536 370.5h3M596 370.5h5M13 371.5h1M539 371.5h3M590 371.5h6M12 372.5h1M542 372.5h3M583 372.5h7M12 373.5h1M545 373.5h4M579 373.5h4M11 374.5h1M549 374.5h7M576 374.5h3M10 375.5h1M556 375.5h7M573 375.5h3M9 376.5h1M563 376.5h10M9 377.5h1M8 378.5h1" fill="none" stroke="#ff0000" stroke-width="1"/>
</g>

<g class="ce">
<rect x="8" y="201" width="1188" height="2" fill="#ff0000"/>
<rect x="8" y="268" width="1188" height="2" fill="#ff0000"/>
<rect x="8" y="326" width="1188" height="2" fill="#00d200"/>
<rect x="8" y="379" width="1188" height="2" fill="#4156e6"/>
<rect x="8" y="432" width="1188" height="2" fill="#4156e6"/>
</g>

<g class="ce">
<rect x="8" y="464" width="1" height="38" fill="#c0c0c0"/>
<rect x="16" y="460" width="1" height="42" fill="#c0c0c0"/>
<rect x="24" y="458" width="1" height="44" fill="#c0c0c0"/>
<rect x="32" y="454" width="1" height="48" fill="#c0c0c0"/>
<rect x="40" y="452" width="1" height="50" fill="#c0c0c0"/>
<rect x="48" y="451" width="1" height="51" fill="#c0c0c0"/>
<rect x="56" y="455" width="1" height="47" fill="#c0c0c0"/>
<rect x="64" y="459" width="1" height="43" fill="#c0c0c0"/>
<rect x="72" y="464" width="1" height="38" fill="#c0c0c0"/>
<rect x="80" y="466" width="1" height="36" fill="#c0c0c0"/>
<rect x="88" y="470" width="1" height="32" fill="#c0c0c0"/>
<rect x="96" y="470" width="1" height="32" fill="#c0c0c0"/>
<rect x="104" y="471" width="1" height="31" fill="#c0c0c0"/>
<rect x="112" y="469" width="1" height="33" fill="#c0c0c0"/>
<rect x="120" y="467" width="1" height="35" fill="#c0c0c0"/>
<rect x="128" y="456" width="1" height="46" fill="#c0c0c0"/>
<rect x="136" y="450" width="1" height="52" fill="#c0c0c0"/>
<rect x="144" y="446" width="1" height="56" fill="#c0c0c0"/>
<rect x="152" y="445" width="1" height="57" fill="#c0c0c0"/>
<rect x="160" y="447" width="1" height="55" fill="#c0c0c0"/>
<rect x="168" y="450" width="1" height="52" fill="#c0c0c0"/>
<rect x="176" y="451" width="1" height="51" fill="#c0c0c0"/>
<rect x="184" y="452" width="1" height="50" fill="#c0c0c0"/>
<rect x="192" y="452" width="1" height="50" fill="#c0c0c0"/>
<rect x="200" y="453" width="1" height="49" fill="#c0c0c0"/>
<rect x="208" y="450" width="1" height="52" fill="#c0c0c0"/>
<rect x="216" y="450" width="1" height="52" fill="#c0c0c0"/>
<rect x="224" y="451" width="1" height="51" fill="#c0c0c0"/>
<rect x="232" y="451" width="1" height="51" fill="#c0c0c0"/>
<rect x="240" y="453" width="1" height="49" fill="#c0c0c0"/>
<rect x="248" y="459" width="1" height="43" fill="#c0c0c0"/>
<rect x="256" y="468" width="1" height="34" fill="#c0c0c0"/>
<rect x="264" y="481" width="1" height="21" fill="#c0c0c0"/>
<rect x="272" y="491" width="1" height="11" fill="#c0c0c0"/>
<rect x="280" y="498" width="1" height="4" fill="#c0c0c0"/>
<rect x="288" y="501" width="1" height="1" fill="#c0c0c0"/>
<rect x="296" y="501" width="1" height="5" fill="#c0c0c0"/>
<rect x="304" y="501" width="1" height="12" fill="#c0c0c0"/>
<rect x="312" y="501" width="1" height="17" fill="#c0c0c0"/>
<rect x="320" y="501" width="1" height="22" fill="#c0c0c0"/>
<rect x="328" y="501" width="1" height="26" fill="#c0c0c0"/>
<rect x="336" y="501" width="1" height="26" fill="#c0c0c0"/>
<rect x="344" y="501" width="1" height="27" fill="#c0c0c0"/>
<rect x="352" y="501" width="1" height="27" fill="#c0c0c0"/>
<rect x="360" y="501" width="1" height="26" fill="#c0c0c0"/>
<rect x="368" y="501" width="1" height="24" fill="#c0c0c0"/>
<rect x="376" y="501" width="1" height="25" fill="#c0c0c0"/>
<rect x="384" y="501" width="1" height="26" fill="#c0c0c0"/>
<rect x="392" y="501" width="1" height="26" fill="#c0c0c0"/>
<rect x="400" y="501" width="1" height="27" fill="#c0c0c0"/>
<rect x="408" y="501" width="1" height="31" fill="#c0c0c0"/>
<rect x="416" y="501" width="1" height="32" fill="#c0c0c0"/>
<rect x="424" y="501" width="1" height="33" fill="#c0c0c0"/>
<rect x="432" y="501" width="1" height="35" fill="#c0c0c0"/>
<rect x="440" y="501" width="1" height="39" fill="#c0c0c0"/>
<rect x="448" y="501" width="1" height="42" fill="#c0c0c0"/>
<rect x="456" y="501" width="1" height="44" fill="#c0c0c0"/>
<rect x="464" y="501" width="1" height="45" fill="#c0c0c0"/>
<rect x="472" y="501" width="1" height="46" fill="#c0c0c0"/>
<rect x="480" y="501" width="1" height="45" fill="#c0c0c0"/>
<rect x="488" y="501" width="1" height="41" fill="#c0c0c0"/>
<rect x="496" y="501" width="1" height="41" fill="#c0c0c0"/>
<rect x="504" y="501" width="1" height="40" fill="#c0c0c0"/>
<rect x="512" y="501" width="1" height="41" fill="#c0c0c0"/>
<rect x="520" y="501" width="1" height="40" fill="#c0c0c0"/>
<rect x="528" y="501" width="1" height="38" fill="#c0c0c0"/>
<rect x="536" y="501" width="1" height="35" fill="#c0c0c0"/>
<rect x="544" y="501" width="1" height="30" fill="#c0c0c0"/>
<rect x="552" y="501" width="1" height="23" fill="#c0c0c0"/>
<rect x="560" y="501" width="1" height="18" fill="#c0c0c0"/>
<rect x="568" y="501" width="1" height="13" fill="#c0c0c0"/>
<rect x="576" y="501" width="1" height="7" fill="#c0c0c0"/>
<rect x="584" y="501" width="1" height="4" fill="#c0c0c0"/>
<rect x="592" y="501" width="1" height="2" fill="#c0c0c0"/>
<rect x="600" y="501" width="1" height="1" fill="#c0c0c0"/>
<rect x="608" y="500" width="1" height="2" fill="#c0c0c0"/>
<rect x="616" y="496" width="1" height="6" fill="#c0c0c0"/>
<rect x="624" y="492" width="1" height="10" fill="#c0c0c0"/>
<rect x="632" y="488" width="1" height="14" fill="#c0c0c0"/>
<rect x="640" y="484" width="1" height="18" fill="#c0c0c0"/>
<rect x="648" y="480" width="1" height="22" fill="#c0c0c0"/>
<rect x="656" y="477" width="1" height="25" fill="#c0c0c0"/>
<rect x="664" y="473" width="1" height="29" fill="#c0c0c0"/>
<rect x="672" y="471" width="1" height="31" fill="#c0c0c0"/>
<rect x="680" y="471" width="1" height="31" fill="#c0c0c0"/>
<rect x="688" y="472" width="1" height="30" fill="#c0c0c0"/>
<rect x="696" y="473" width="1" height="29" fill="#c0c0c0"/>
<rect x="704" y="474" width="1" height="28" fill="#c0c0c0"/>
<rect x="712" y="474" width="1" height="28" fill="#c0c0c0"/>
<rect x="720" y="475" width="1" height="27" fill="#c0c0c0"/>
<rect x="728" y="473" width="1" height="29" fill="#c0c0c0"/>
<rect x="736" y="471" width="1" height="31" fill="#c0c0c0"/>
<rect x="744" y="469" width="1" height="33" fill="#c0c0c0"/>
<rect x="752" y="468" width="1" height="34" fill="#c0c0c0"/>
<rect x="760" y="468" width="1" height="34" fill="#c0c0c0"/>
<rect x="768" y="468" width="1" height="34" fill="#c0c0c0"/>
<rect x="776" y="468" width="1" height="34" fill="#c0c0c0"/>
<rect x="784" y="471" width="1" height="31" fill="#c0c0c0"/>
<rect x="792" y="474" width="1" height="28" fill="#c0c0c0"/>
<rect x="800" y="477" width="1" height="25" fill="#c0c0c0"/>
<rect x="808" y="479" width="1" height="23" fill="#c0c0c0"/>
<rect x="816" y="482" width="1" height="20" fill="#c0c0c0"/>
<rect x="824" y="485" width="1" height="17" fill="#c0c0c0"/>
<rect x="832" y="485" width="1" height="17" fill="#c0c0c0"/>
<rect x="840" y="486" width="1" height="16" fill="#c0c0c0"/>
<rect x="848" y="486" width="1" height="16" fill="#c0c0c0"/>
<rect x="856" y="489" width="1" height="13" fill="#c0c0c0"/>
<rect x="864" y="491" width="1" height="11" fill="#c0c0c0"/>
<rect x="872" y="495" width="1" height="7" fill="#c0c0c0"/>
<rect x="880" y="499" width="1" height="3" fill="#c0c0c0"/>
<rect x="888" y="501" width="1" height="1" fill="#c0c0c0"/>
<rect x="896" y="501" width="1" height="8" fill="#c0c0c0"/>
<rect x="904" y="501" width="1" height="12" fill="#c0c0c0"/>
<rect x="912" y="501" width="1" height="17" fill="#c0c0c0"/>
<rect x="920" y="501" width="1" height="22" fill="#c0c0c0"/>
<rect x="928" y="501" width="1" height="23" fill="#c0c0c0"/>
<rect x="936" y="501" width="1" height="23" fill="#c0c0c0"/>
<rect x="944" y="501" width="1" height="24" fill="#c0c0c0"/>
<rect x="952" y="501" width="1" height="23" fill="#c0c0c0"/>
<rect x="960" y="501" width="1" height="21" fill="#c0c0c0"/>
<rect x="968" y="501" width="1" height="19" fill="#c0c0c0"/>
<rect x="976" y="501" width="1" height="18" fill="#c0c0c0"/>
<rect x="984" y="501" width="1" height="17" fill="#c0c0c0"/>
<rect x="992" y="501" width="1" height="19" fill="#c0c0c0"/>
<rect x="1000" y="501" width="1" height="20" fill="#c0c0c0"/>
<rect x="1008" y="501" width="1" height="21" fill="#c0c0c0"/>
<rect x="1016" y="501" width="1" height="21" fill="#c0c0c0"/>
<rect x="1024" y="501" width="1" height="23" fill="#c0c0c0"/>
<rect x="1032" y="501" width="1" height="23" fill="#c0c0c0"/>
<rect x="1040" y="501" width="1" height="24" fill="#c0c0c0"/>
<rect x="1048" y="501" width="1" height="25" fill="#c0c0c0"/>
<rect x="1056" y="501" width="1" height="26" fill="#c0c0c0"/>
<rect x="1064" y="501" width="1" height="26" fill="#c0c0c0"/>
<rect x="1072" y="501" width="1" height="26" fill="#c0c0c0"/>
<rect x="1080" y="501" width="1" height="25" fill="#c0c0c0"/>
<rect x="1088" y="501" width="1" height="25" fill="#c0c0c0"/>
<rect x="1096" y="501" width="1" height="23" fill="#c0c0c0"/>
<rect x="1104" y="501" width="1" height="20" fill="#c0c0c0"/>
<rect x="1112" y="501" width="1" height="18" fill="#c0c0c0"/>
<rect x="1120" y="501" width="1" height="15" fill="#c0c0c0"/>
<rect x="1128" y="501" width="1" height="12" fill="#c0c0c0"/>
<rect x="1136" y="501" width="1" height="9" fill="#c0c0c0"/>
<rect x="1144" y="501" width="1" height="7" fill="#c0c0c0"/>
<rect x="1152" y="501" width="1" height="6" fill="#c0c0c0"/>
<rect x="1160" y="501" width="1" height="5" fill="#c0c0c0"/>
<rect x="1168" y="501" width="1" height="7" fill="#c0c0c0"/>
<rect x="1176" y="501" width="1" height="8" fill="#c0c0c0"/>
<path d="M198 448.5h5M206 448.5h5M185 449.5h2M190 449.5h5M214 449.5h5M222 449.5h2M182 450.5h3M224 450.5h3M230 450.5h5M177 451.5h2M238 451.5h5M246 451.5h5M174 452.5h3M254 452.5h1M255 453.5h3M168 454.5h3M258 454.5h1M166 455.5h2M262 455.5h1M162 456.5h1M263 456.5h2M57 457.5h2M62 457.5h5M70 457.5h5M78 457.5h5M86 457.5h2M158 457.5h4M265 457.5h2M54 458.5h3M88 458.5h3M94 458.5h3M49 459.5h2M97 459.5h2M151 459.5h4M270 459.5h1M46 460.5h3M102 460.5h3M150 460.5h1M271 460.5h2M105 461.5h2M146 461.5h1M273 461.5h1M40 462.5h3M110 462.5h1M142 462.5h4M274 462.5h1M38 463.5h2M111 463.5h3M114 464.5h1M134 464.5h5M278 464.5h1M33 465.5h2M118 465.5h5M126 465.5h5M279 465.5h1M30 466.5h3M280 466.5h2M282 467.5h1M24 468.5h3M22 469.5h2M774 469.5h5M782 469.5h5M790 469.5h5M798 469.5h5M806 469.5h1M286 470.5h1M766 470.5h5M807 470.5h4M18 471.5h1M287 471.5h1M750 471.5h5M758 471.5h5M814 471.5h2M16 472.5h2M288 472.5h2M718 472.5h5M726 472.5h5M734 472.5h5M742 472.5h5M816 472.5h3M14 473.5h2M290 473.5h1M710 473.5h5M822 473.5h1M702 474.5h5M823 474.5h4M10 475.5h1M697 475.5h2M830 475.5h5M8 476.5h2M294 476.5h1M694 476.5h3M838 476.5h3M295 477.5h1M689 477.5h2M841 477.5h2M296 478.5h1M686 478.5h3M846 478.5h3M297 479.5h1M682 479.5h1M849 479.5h2M298 480.5h1M679 480.5h3M854 480.5h1M678 481.5h1M855 481.5h4M673 482.5h2M862 482.5h3M302 483.5h1M671 483.5h2M865 483.5h2M303 484.5h2M670 484.5h1M870 484.5h3M305 485.5h1M873 485.5h2M306 486.5h1M664 486.5h3M662 487.5h2M878 487.5h2M880 488.5h3M657 489.5h2M886 489.5h2M310 490.5h1M655 490.5h2M888 490.5h3M311 491.5h1M654 491.5h1M312 492.5h1M650 492.5h1M894 492.5h2M313 493.5h1M647 493.5h3M896 493.5h2M314 494.5h1M646 494.5h1M898 494.5h1M641 495.5h2M902 495.5h2M639 496.5h2M904 496.5h3M318 497.5h1M638 497.5h1M319 498.5h1M910 498.5h2M320 499.5h1M633 499.5h2M912 499.5h2M321 500.5h1M630 500.5h3M914 500.5h1M322 501.5h1M625 502.5h2M918 502.5h3M623 503.5h2M921 503.5h2M622 504.5h1M326 505.5h2M926 505.5h1M328 506.5h1M617 506.5h2M927 506.5h2M329 507.5h2M615 507.5h2M929 507.5h1M614 508.5h1M930 508.5h1M1174 509.5h3M334 510.5h3M609 510.5h2M934 510.5h3M1168 510.5h3M337 511.5h1M607 511.5h2M937 511.5h2M1166 511.5h2M338 512.5h1M606 512.5h1M1160 512.5h3M942 513.5h2M1158 513.5h2M342 514.5h3M601 514.5h2M944 514.5h2M1154 514.5h1M345 515.5h2M599 515.5h2M946 515.5h1M1150 515.5h4M598 516.5h1M950 516.5h1M1146 516.5h1M350 517.5h2M951 517.5h4M1142 517.5h4M352 518.5h2M593 518.5h2M958 518.5h1M1138 518.5h1M354 519.5h1M591 519.5h2M959 519.5h4M1134 519.5h4M358 520.5h1M590 520.5h1M1006 520.5h5M1014 520.5h5M1022 520.5h5M1030 520.5h5M1130 520.5h1M359 521.5h4M966 521.5h5M974 521.5h3M990 521.5h5M998 521.5h5M1038 521.5h5M1126 521.5h4M366 522.5h1M585 522.5h2M977 522.5h2M982 522.5h5M1046 522.5h5M1118 522.5h5M367 523.5h4M583 523.5h2M1054 523.5h5M1062 523.5h5M1070 523.5h2M1105 523.5h2M1110 523.5h5M374 524.5h1M582 524.5h1M1072 524.5h3M1078 524.5h5M1086 524.5h5M1094 524.5h5M1102 524.5h3M375 525.5h4M382 526.5h5M390 526.5h5M398 526.5h5M577 526.5h2M406 527.5h5M414 527.5h5M575 527.5h2M422 528.5h5M574 528.5h1M430 529.5h5M438 530.5h5M569 530.5h2M446 531.5h1M567 531.5h2M447 532.5h4M566 532.5h1M454 533.5h1M562 533.5h1M455 534.5h4M559 534.5h3M462 535.5h1M558 535.5h1M463 536.5h4M554 536.5h1M470 537.5h1M550 537.5h4M471 538.5h4M546 538.5h1M478 539.5h1M542 539.5h4M479 540.5h4M538 540.5h1M486 541.5h5M534 541.5h4M494 542.5h5M526 542.5h5M502 543.5h5M510 543.5h5M518 543.5h5" fill="none" stroke="#ff0000" stroke-width="1"/>
</g>

<g class="ce">
<line x1="9" y1="590.5" x2="1195" y2="590.5" stroke="#c0c0c0" stroke-width="1" stroke-dasharray="3 3"/>
<line x1="9" y1="637.5" x2="1195" y2="637.5" stroke="#c0c0c0" stroke-width="1" stroke-dasharray="3 3"/>
<path d="M31 579.5h11M29 580.5h2M42 580.5h3M128 580.5h2M26 581.5h3M45 581.5h2M127 581.5h1M130 581.5h2M16 582.5h10M47 582.5h2M127 582.5h1M132 582.5h2M15 583.5h1M48 583.5h1M126 583.5h1M134 583.5h2M13 584.5h2M49 584.5h1M125 584.5h1M136 584.5h9M12 585.5h1M49 585.5h1M125 585.5h1M145 585.5h1M11 586.5h1M50 586.5h1M124 586.5h1M146 586.5h1M9 587.5h2M50 587.5h1M123 587.5h1M147 587.5h1M208 587.5h1M663 587.5h6M736 587.5h5M8 588.5h1M51 588.5h1M123 588.5h1M148 588.5h1M207 588.5h1M209 588.5h1M659 588.5h4M669 588.5h4M734 588.5h2M741 588.5h14M767 588.5h4M51 589.5h1M122 589.5h1M149 589.5h1M206 589.5h1M210 589.5h1M647 589.5h12M673 589.5h1M733 589.5h1M755 589.5h4M763 589.5h4M771 589.5h4M52 590.5h1M121 590.5h1M150 590.5h1M205 590.5h1M211 590.5h1M645 590.5h2M674 590.5h1M731 590.5h2M759 590.5h4M775 590.5h2M52 591.5h1M121 591.5h1M151 591.5h1M204 591.5h1M212 591.5h1M642 591.5h3M675 591.5h1M729 591.5h2M777 591.5h1M53 592.5h1M112 592.5h9M152 592.5h1M203 592.5h1M213 592.5h1M640 592.5h2M676 592.5h1M728 592.5h1M777 592.5h1M53 593.5h1M111 593.5h1M153 593.5h2M202 593.5h1M214 593.5h1M231 593.5h3M638 593.5h2M676 593.5h1M726 593.5h2M778 593.5h1M54 594.5h1M110 594.5h1M155 594.5h1M189 594.5h8M201 594.5h1M215 594.5h1M227 594.5h4M234 594.5h3M636 594.5h2M677 594.5h1M724 594.5h2M779 594.5h1M54 595.5h1M109 595.5h1M156 595.5h1M183 595.5h6M197 595.5h4M216 595.5h11M237 595.5h2M634 595.5h2M678 595.5h1M722 595.5h2M779 595.5h1M55 596.5h1M108 596.5h1M157 596.5h2M179 596.5h4M239 596.5h2M629 596.5h5M679 596.5h1M712 596.5h10M780 596.5h1M55 597.5h1M107 597.5h1M159 597.5h1M175 597.5h4M241 597.5h1M623 597.5h6M680 597.5h2M711 597.5h1M781 597.5h1M56 598.5h1M106 598.5h1M160 598.5h3M173 598.5h2M241 598.5h1M619 598.5h4M682 598.5h3M709 598.5h2M781 598.5h1M56 599.5h1M105 599.5h1M163 599.5h4M170 599.5h3M242 599.5h1M616 599.5h3M685 599.5h2M693 599.5h5M708 599.5h1M782 599.5h1M57 600.5h2M96 600.5h9M167 600.5h3M242 600.5h1M615 600.5h1M687 600.5h6M698 600.5h3M707 600.5h1M783 600.5h1M59 601.5h2M80 601.5h1M95 601.5h1M243 601.5h1M576 601.5h1M614 601.5h1M701 601.5h2M705 601.5h2M783 601.5h1M61 602.5h1M78 602.5h2M81 602.5h2M94 602.5h1M244 602.5h1M575 602.5h1M577 602.5h2M613 602.5h1M703 602.5h2M784 602.5h1M808 602.5h1M62 603.5h2M76 603.5h2M83 603.5h1M93 603.5h1M244 603.5h1M573 603.5h2M579 603.5h2M612 603.5h1M785 603.5h2M806 603.5h2M809 603.5h1M64 604.5h5M74 604.5h2M84 604.5h1M91 604.5h2M245 604.5h1M572 604.5h1M581 604.5h1M612 604.5h1M787 604.5h2M805 604.5h1M810 604.5h1M832 604.5h13M69 605.5h5M85 605.5h2M90 605.5h1M246 605.5h1M571 605.5h1M582 605.5h2M611 605.5h1M789 605.5h1M803 605.5h2M811 605.5h1M831 605.5h1M845 605.5h4M87 606.5h1M89 606.5h1M246 606.5h1M569 606.5h2M584 606.5h3M610 606.5h1M790 606.5h2M801 606.5h2M812 606.5h1M830 606.5h1M849 606.5h1M88 607.5h1M247 607.5h1M552 607.5h5M565 607.5h4M587 607.5h4M609 607.5h1M792 607.5h9M812 607.5h1M829 607.5h1M850 607.5h1M1135 607.5h4M247 608.5h1M551 608.5h1M557 608.5h8M591 608.5h6M605 608.5h4M813 608.5h1M828 608.5h1M851 608.5h1M1133 608.5h2M1139 608.5h4M248 609.5h1M550 609.5h1M597 609.5h8M814 609.5h1M828 609.5h1M852 609.5h1M1130 609.5h3M1143 609.5h10M249 610.5h1M549 610.5h1M815 610.5h1M827 610.5h1M853 610.5h1M1125 610.5h5M1153 610.5h1M250 611.5h1M547 611.5h2M816 611.5h3M826 611.5h1M854 611.5h1M1120 611.5h5M1154 611.5h1M251 612.5h2M546 612.5h1M819 612.5h4M825 612.5h1M855 612.5h1M1119 612.5h1M1155 612.5h2M253 613.5h1M545 613.5h1M823 613.5h2M856 613.5h2M1118 613.5h1M1157 613.5h1M254 614.5h1M544 614.5h1M858 614.5h3M1117 614.5h1M1158 614.5h1M255 615.5h1M543 615.5h1M861 615.5h2M1115 615.5h2M1159 615.5h1M256 616.5h1M542 616.5h1M863 616.5h2M1114 616.5h1M1160 616.5h1M257 617.5h1M541 617.5h1M865 617.5h1M968 617.5h3M1113 617.5h1M1161 617.5h1M257 618.5h1M540 618.5h1M866 618.5h1M966 618.5h2M971 618.5h4M1112 618.5h1M1162 618.5h1M258 619.5h1M539 619.5h1M867 619.5h2M965 619.5h1M975 619.5h10M1110 619.5h2M1163 619.5h1M259 620.5h1M538 620.5h1M869 620.5h1M963 620.5h2M985 620.5h1M1108 620.5h2M1164 620.5h1M1176 620.5h1M259 621.5h1M359 621.5h11M537 621.5h1M870 621.5h1M961 621.5h2M985 621.5h1M1106 621.5h2M1164 621.5h1M1174 621.5h2M260 622.5h1M287 622.5h10M357 622.5h2M370 622.5h3M536 622.5h1M871 622.5h1M957 622.5h4M986 622.5h1M1103 622.5h3M1165 622.5h1M1173 622.5h1M261 623.5h1M283 623.5h4M297 623.5h2M336 623.5h2M354 623.5h3M373 623.5h2M534 623.5h2M872 623.5h9M952 623.5h5M987 623.5h1M1016 623.5h1M1099 623.5h4M1166 623.5h1M1171 623.5h2M261 624.5h1M280 624.5h3M299 624.5h1M335 624.5h1M338 624.5h3M351 624.5h3M375 624.5h4M532 624.5h2M881 624.5h2M950 624.5h2M988 624.5h1M1015 624.5h1M1017 624.5h2M1095 624.5h4M1167 624.5h1M1169 624.5h2M262 625.5h1M278 625.5h2M300 625.5h1M334 625.5h1M341 625.5h2M347 625.5h4M379 625.5h4M488 625.5h1M530 625.5h2M883 625.5h2M948 625.5h2M988 625.5h1M1014 625.5h1M1019 625.5h1M1091 625.5h4M1168 625.5h1M263 626.5h1M276 626.5h2M301 626.5h2M333 626.5h1M343 626.5h4M383 626.5h4M487 626.5h1M489 626.5h1M528 626.5h2M885 626.5h1M935 626.5h6M946 626.5h2M989 626.5h1M1013 626.5h1M1020 626.5h1M1085 626.5h6M263 627.5h1M274 627.5h2M303 627.5h1M331 627.5h2M387 627.5h4M486 627.5h1M490 627.5h1M527 627.5h1M886 627.5h2M931 627.5h4M941 627.5h5M990 627.5h1M999 627.5h3M1012 627.5h1M1021 627.5h2M1031 627.5h6M1064 627.5h21M264 628.5h10M304 628.5h3M330 628.5h1M391 628.5h6M485 628.5h1M491 628.5h2M526 628.5h1M888 628.5h1M928 628.5h3M991 628.5h1M997 628.5h2M1002 628.5h2M1011 628.5h1M1023 628.5h1M1027 628.5h4M1037 628.5h6M1062 628.5h2M307 629.5h4M329 629.5h1M397 629.5h4M483 629.5h2M493 629.5h1M525 629.5h1M889 629.5h1M927 629.5h1M991 629.5h1M994 629.5h3M1004 629.5h2M1010 629.5h1M1024 629.5h3M1043 629.5h4M1061 629.5h1M311 630.5h6M325 630.5h4M401 630.5h2M482 630.5h1M494 630.5h1M524 630.5h1M890 630.5h1M904 630.5h1M926 630.5h1M992 630.5h2M1006 630.5h2M1009 630.5h1M1047 630.5h4M1059 630.5h2M317 631.5h8M403 631.5h2M415 631.5h10M481 631.5h1M495 631.5h1M523 631.5h1M891 631.5h1M903 631.5h1M905 631.5h2M925 631.5h1M1008 631.5h1M1051 631.5h4M1057 631.5h2M405 632.5h1M413 632.5h2M425 632.5h2M480 632.5h1M496 632.5h10M522 632.5h1M892 632.5h1M902 632.5h1M907 632.5h2M924 632.5h1M1055 632.5h2M406 633.5h2M410 633.5h3M427 633.5h2M479 633.5h1M506 633.5h3M521 633.5h1M892 633.5h1M901 633.5h1M909 633.5h1M924 633.5h1M408 634.5h2M429 634.5h1M478 634.5h1M509 634.5h2M517 634.5h4M893 634.5h1M899 634.5h2M910 634.5h2M923 634.5h1M430 635.5h2M477 635.5h1M511 635.5h6M894 635.5h1M898 635.5h1M912 635.5h3M922 635.5h1M432 636.5h2M476 636.5h1M895 636.5h1M897 636.5h1M915 636.5h4M921 636.5h1M434 637.5h2M476 637.5h1M896 637.5h1M919 637.5h2M436 638.5h2M475 638.5h1M438 639.5h2M455 639.5h6M474 639.5h1M440 640.5h3M453 640.5h2M461 640.5h8M473 640.5h1M443 641.5h4M450 641.5h3M469 641.5h4M447 642.5h3" fill="none" stroke="#1e90ff" stroke-width="1"/>
</g>

<g class="ce">
<rect x="7" y="6" width="1189" height="1" fill="#000"/>
<rect x="7" y="6" width="1" height="667" fill="#000"/>
<rect x="1195" y="6" width="1" height="667" fill="#000"/>
<rect x="7" y="435" width="1189" height="1" fill="#000"/>
<rect x="7" y="437" width="1189" height="1" fill="#000"/>
<rect x="7" y="552" width="1189" height="1" fill="#000"/>
<rect x="7" y="554" width="1189" height="1" fill="#000"/>
<rect x="7" y="672" width="1189" height="1" fill="#000"/>
<rect x="8" y="673" width="1" height="3" fill="#000"/>
<rect x="72" y="673" width="1" height="3" fill="#000"/>
<rect x="136" y="673" width="1" height="3" fill="#000"/>
<rect x="200" y="673" width="1" height="3" fill="#000"/>
<rect x="264" y="673" width="1" height="3" fill="#000"/>
<rect x="328" y="673" width="1" height="3" fill="#000"/>
<rect x="392" y="673" width="1" height="3" fill="#000"/>
<rect x="456" y="673" width="1" height="3" fill="#000"/>
<rect x="520" y="673" width="1" height="3" fill="#000"/>
<rect x="584" y="673" width="1" height="3" fill="#000"/>
<rect x="648" y="673" width="1" height="3" fill="#000"/>
<rect x="712" y="673" width="1" height="3" fill="#000"/>
<rect x="776" y="673" width="1" height="3" fill="#000"/>
<rect x="840" y="673" width="1" height="3" fill="#000"/>
<rect x="904" y="673" width="1" height="3" fill="#000"/>
<rect x="968" y="673" width="1" height="3" fill="#000"/>
<rect x="1032" y="673" width="1" height="3" fill="#000"/>
<rect x="1096" y="673" width="1" height="3" fill="#000"/>
<rect x="1160" y="673" width="1" height="3" fill="#000"/>
<rect x="1195" y="201" width="1" height="2" fill="#ff0000"/>
<rect x="1195" y="268" width="1" height="2" fill="#ff0000"/>
<rect x="1195" y="326" width="1" height="2" fill="#00d200"/>
<rect x="1195" y="379" width="1" height="2" fill="#4156e6"/>
<rect x="1195" y="432" width="1" height="2" fill="#4156e6"/>
</g>

<g class="ce">
<rect x="1196" y="36" width="2" height="1" fill="#000"/>
<rect x="1196" y="69" width="2" height="1" fill="#000"/>
<rect x="1196" y="102" width="2" height="1" fill="#000"/>
<rect x="1196" y="135" width="2" height="1" fill="#000"/>
<rect x="1196" y="168" width="2" height="1" fill="#000"/>
<rect x="1196" y="201" width="2" height="1" fill="#000"/>
<rect x="1196" y="234" width="2" height="1" fill="#000"/>
<rect x="1196" y="267" width="2" height="1" fill="#000"/>
<rect x="1196" y="300" width="2" height="1" fill="#000"/>
<rect x="1196" y="333" width="2" height="1" fill="#000"/>
<rect x="1196" y="366" width="2" height="1" fill="#000"/>
<rect x="1196" y="399" width="2" height="1" fill="#000"/>
<rect x="1196" y="432" width="2" height="1" fill="#000"/>
</g>

<text transform="translate(1201.3 40) scale(0.918 1)" class="ax">137.160</text>
<text transform="translate(1201.3 73) scale(0.918 1)" class="ax">133.760</text>
<text transform="translate(1201.3 106) scale(0.918 1)" class="ax">130.260</text>
<text transform="translate(1201.3 139) scale(0.918 1)" class="ax">126.860</text>
<text transform="translate(1201.3 172) scale(0.918 1)" class="ax">123.460</text>
<text transform="translate(1201.3 238) scale(0.918 1)" class="ax">116.660</text>
<text transform="translate(1201.3 304) scale(0.918 1)" class="ax">109.760</text>
<text transform="translate(1201.3 337) scale(0.918 1)" class="ax">106.360</text>
<text transform="translate(1201.3 370) scale(0.918 1)" class="ax">102.960</text>
<text transform="translate(1201.3 403) scale(0.918 1)" class="ax">99.560</text>
<g class="ce">
<rect x="1198" y="196" width="39" height="11" fill="#ff0000"/>
<rect x="1198" y="263" width="39" height="11" fill="#ff0000"/>
<rect x="1198" y="321" width="39" height="11" fill="#00d200"/>
<rect x="1198" y="334" width="39" height="11" fill="#000000"/>
<rect x="1198" y="374" width="39" height="11" fill="#4156e6"/>
<rect x="1198" y="427" width="34" height="11" fill="#4156e6"/>
</g>

<text transform="translate(1201.3 205) scale(0.918 1)" class="w ax">120.000</text>
<text transform="translate(1201.3 272) scale(0.918 1)" class="w ax">113.000</text>
<text transform="translate(1201.3 330) scale(0.918 1)" class="w ax">107.000</text>
<text transform="translate(1201.3 343) scale(0.918 1)" class="w ax">105.791</text>
<text transform="translate(1201.3 383) scale(0.918 1)" class="w ax">101.500</text>
<text transform="translate(1201.3 436) scale(0.918 1)" class="w ax">96.000</text>
<g class="ce">
<rect x="1196" y="501" width="2" height="1" fill="#000"/>
<rect x="1196" y="590" width="2" height="1" fill="#000"/>
<rect x="1196" y="637" width="2" height="1" fill="#000"/>
<rect x="1196" y="439" width="1" height="1" fill="#000"/>
<rect x="1196" y="551" width="1" height="1" fill="#000"/>
<rect x="1196" y="556" width="1" height="1" fill="#000"/>
<rect x="1196" y="671" width="1" height="1" fill="#000"/>
</g>

<text transform="translate(1198.6 448) scale(0.918 1)">6.1457</text>
<text transform="translate(1198.6 505) scale(0.918 1)">0.00</text>
<text transform="translate(1198.8 549) scale(0.918 1)">-4.9783</text>
<text transform="translate(1199.3 565) scale(0.918 1)">100</text>
<text transform="translate(1198.6 594) scale(0.918 1)">70</text>
<text transform="translate(1198.6 641) scale(0.918 1)">30</text>
<text transform="translate(1198.6 669) scale(0.918 1)">0</text>
<path d="M11 13h7l-3.5 4z" fill="#000"/>
<text transform="translate(22.4 18) scale(0.985 1)">UKOil-,H4</text>
<text transform="translate(71.7 18) scale(0.918 1)" class="ax">104.799</text>
<text transform="translate(107.7 18) scale(0.918 1)" class="ax">105.887</text>
<text transform="translate(143.7 18) scale(0.918 1)" class="ax">104.787</text>
<text transform="translate(179.7 18) scale(0.918 1)" class="ax">105.791</text>
<text transform="translate(11.4 450) scale(0.964 1)" class="tl">MACD(12,26,9) -0.5869 -0.8287</text>
<text transform="translate(11.4 567) scale(0.964 1)" class="tl">RSI(14) 44.4414</text>
<text transform="translate(6.5 685) scale(0.948 1)" class="tl">2 Mar 2022</text>
<text transform="translate(70.5 685) scale(0.948 1)" class="tl">3 Mar 21:00</text>
<text transform="translate(134.5 685) scale(0.948 1)" class="tl">7 Mar 00:00</text>
<text transform="translate(198.5 685) scale(0.948 1)" class="tl">8 Mar 09:00</text>
<text transform="translate(262.5 685) scale(0.948 1)" class="tl">9 Mar 17:00</text>
<text transform="translate(326.5 685) scale(0.948 1)" class="tl">11 Mar 01:00</text>
<text transform="translate(390.5 685) scale(0.948 1)" class="tl">14 Mar 04:00</text>
<text transform="translate(454.5 685) scale(0.948 1)" class="tl">15 Mar 12:00</text>
<text transform="translate(518.5 685) scale(0.948 1)" class="tl">16 Mar 20:00</text>
<text transform="translate(582.5 685) scale(0.948 1)" class="tl">18 Mar 04:00</text>
<text transform="translate(646.5 685) scale(0.948 1)" class="tl">21 Mar 16:00</text>
<text transform="translate(710.5 685) scale(0.948 1)" class="tl">23 Mar 00:00</text>
<text transform="translate(774.5 685) scale(0.948 1)" class="tl">24 Mar 08:00</text>
<text transform="translate(838.5 685) scale(0.948 1)" class="tl">25 Mar 16:00</text>
<text transform="translate(902.5 685) scale(0.948 1)" class="tl">29 Mar 04:00</text>
<text transform="translate(966.5 685) scale(0.948 1)" class="tl">30 Mar 12:00</text>
<text transform="translate(1030.5 685) scale(0.948 1)" class="tl">31 Mar 20:00</text>
<text transform="translate(1094.5 685) scale(0.948 1)" class="tl">4 Apr 04:00</text>
<text transform="translate(1158.5 685) scale(0.948 1)" class="tl">5 Apr 12:00</text>
<text transform="translate(531.6 106.4) scale(1 1)" class="big">多空转折点<tspan style="font-family:&quot;Noto Sans CJK SC&quot;,sans-serif">107</tspan></text>
</svg>
</body></html>
